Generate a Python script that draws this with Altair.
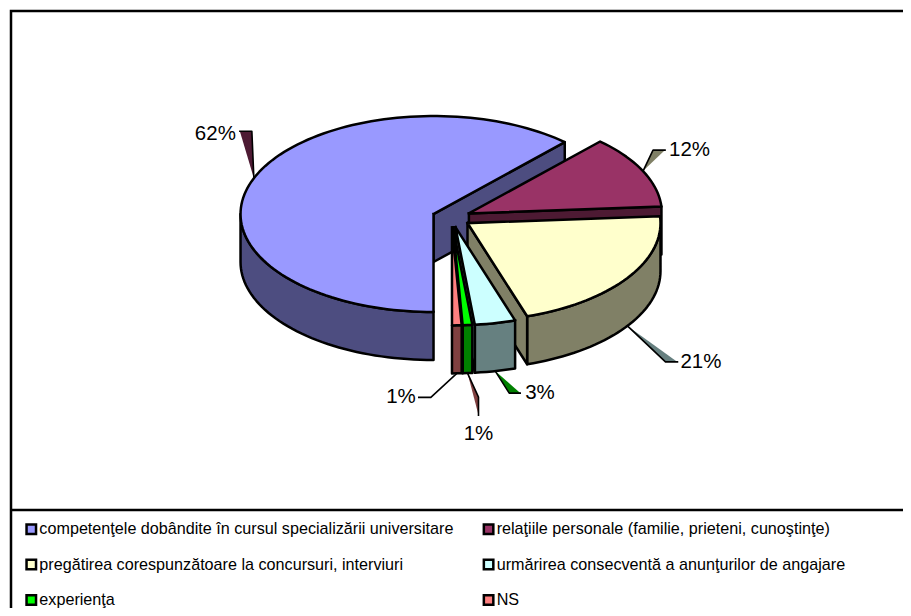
import math
import altair as alt
import pandas as pd

CATEGORIES = [
    "competenţele dobândite în cursul specializării universitare",
    "relaţiile personale (familie, prieteni, cunoştinţe)",
    "pregătirea corespunzătoare la concursuri, interviuri",
    "urmărirea consecventă a anunţurilor de angajare",
    "experienţa",
    "NS",
]
SHARES = [61.9, 12.0, 21.1, 3.4, 0.8, 0.8]
LABELS = ["62%", "12%", "21%", "3%", "1%", "1%"]
TOP_COLORS = ["#9999FF", "#993366", "#FFFFCC", "#CCFFFF", "#00FF00", "#FF8080"]
SIDE_COLORS = ["#4D4D80", "#4D1A33", "#808066", "#668080", "#008000", "#804040"]
LEADER_FILLS = ["#4D1A33", "#808066", "#668080", "#008000", "#804040", "#FFFFFF"]

# Pie layout (pixels of the picture)
CX, CY, RX, RY, DEPTH, EXPLODE, START = 451.5, 217.6, 193.0, 98.0, 48.0, 0.1, 180.0
W, H = 903, 608
# leader: offset anchor->elbow, elbow->end
LEADERS = [(-2, -47, -12, 0), (10, -21, 12, 0), (38, 36, 12, 0),
           (14, 22, 11, 0), (11, 24, 0, 18), (-26, 24, -12, 0)]
# text offset from leader end, and alignment
TEXTS = [(-4, 3, "right"), (4, 0, "left"), (3, 0, "left"),
         (5, 0, "left"), (0, 19, "center"), (-3, 0, "right")]

x_scale = alt.Scale(domain=[8, W], range=[0, W - 8], nice=False, zero=False)
y_scale = alt.Scale(domain=[8, H], range=[0, H - 8], nice=False, zero=False)


def poly(points, fill, width=2.5, stroke="black"):
    df = pd.DataFrame([{"x": p[0], "y": p[1], "i": i} for i, p in enumerate(points)])
    return alt.Chart(df).mark_line(
        fill=fill, stroke=stroke, strokeWidth=width, strokeJoin="round", strokeCap="square"
    ).encode(
        x=alt.X("x:Q", scale=x_scale, axis=None),
        y=alt.Y("y:Q", scale=y_scale, axis=None),
        order="i:Q",
    )


def rim(apex, deg, dz=0.0):
    t = math.radians(deg)
    return (apex[0] + RX * math.sin(t), apex[1] - RY * math.cos(t) + dz)


def arc(apex, a0, a1, dz=0.0):
    n = max(2, int(abs(a1 - a0) / 2) + 1)
    return [rim(apex, a0 + (a1 - a0) * k / n, dz) for k in range(n + 1)]


layers = []

# Legend carrier, hidden under the pie
legend_df = pd.DataFrame({"cat": CATEGORIES})
layers.append(
    alt.Chart(legend_df).mark_square(size=1, filled=True).encode(
        x=alt.value(CX - 8),
        y=alt.value(CY - 8),
        fill=alt.Fill(
            "cat:N",
            sort=CATEGORIES,
            scale=alt.Scale(domain=CATEGORIES, range=TOP_COLORS),
            legend=alt.Legend(
                title=None, orient="none", legendX=15.2, legendY=513, columns=2,
                direction="horizontal", symbolType="square", symbolSize=90,
                symbolStrokeColor="black", symbolStrokeWidth=2.5, symbolOpacity=1,
                labelFont="Liberation Sans", labelFontSize=16.17, labelColor="black",
                labelLimit=600, rowPadding=15.5, columnPadding=24.3, symbolOffset=0,
                labelOffset=0, padding=0,
            ),
        ),
    )
)

angle = START
slices = []
for share in SHARES:
    a0 = angle % 360
    a1 = a0 + share * 3.6
    mid = (a0 + a1) / 2
    apex = (CX + EXPLODE * RX * math.sin(math.radians(mid)),
            CY - EXPLODE * RY * math.cos(math.radians(mid)))
    slices.append((a0, a1, mid, apex))
    angle = a1

for i, (a0, a1, mid, apex) in enumerate(slices):
    # outer wall (front half only)
    w0, w1 = max(a0, 90), min(a1, 270)
    if w1 > w0:
        layers.append(poly(arc(apex, w0, w1) + arc(apex, w1, w0, DEPTH) + [rim(apex, w0)], SIDE_COLORS[i]))
    # cut face at the end of the slice, when it faces the viewer
    if math.sin(math.radians(a1)) > 0.01:
        p = rim(apex, a1)
        q = rim(apex, a1, DEPTH)
        layers.append(poly([apex, p, q, (apex[0], apex[1] + DEPTH), apex], SIDE_COLORS[i]))
    # top face
    layers.append(poly([apex] + arc(apex, a0, a1) + [apex], TOP_COLORS[i]))

# Data labels with wedge leaders
text_rows = []
for i, (a0, a1, mid, apex) in enumerate(slices):
    visible_front = math.cos(math.radians(mid)) < 0
    a = rim(apex, mid, DEPTH if visible_front else 0.0)
    dx1, dy1, dx2, dy2 = LEADERS[i]
    e = (a[0] + dx1, a[1] + dy1)
    f = (e[0] + dx2, e[1] + dy2)
    layers.append(poly([a, e, f], LEADER_FILLS[i], width=1.6))
    tx, ty, al = TEXTS[i]
    text_rows.append((f[0] + tx, f[1] + ty, LABELS[i], al))

for tx, ty, label, al in text_rows:
    layers.append(
        alt.Chart(pd.DataFrame({"x": [tx], "y": [ty], "t": [label]})).mark_text(
            align=al, baseline="middle", font="Liberation Sans", fontSize=20.5, color="black"
        ).encode(
            x=alt.X("x:Q", scale=x_scale, axis=None),
            y=alt.Y("y:Q", scale=y_scale, axis=None),
            text="t:N",
        )
    )

# Chart frame and legend separator
FRAME = [
    [(W + 2, 11), (11, 11), (11, H + 2)],
    [(11, 510), (W + 2, 510)],
]
for seg in FRAME:
    df = pd.DataFrame([{"x": p[0], "y": p[1], "i": k} for k, p in enumerate(seg)])
    layers.append(
        alt.Chart(df).mark_line(stroke="black", strokeWidth=2.5, clip=True).encode(
            x=alt.X("x:Q", scale=x_scale, axis=None),
            y=alt.Y("y:Q", scale=y_scale, axis=None),
            order="i:Q",
        )
    )

chart = alt.layer(*layers).properties(
    width=W - 8, height=H - 8, padding=0,
    autosize=alt.AutoSizeParams(type="none"), background="white",
).configure_view(stroke=None)

chart.save("out.html", embed_options={"renderer": "svg", "actions": False})
